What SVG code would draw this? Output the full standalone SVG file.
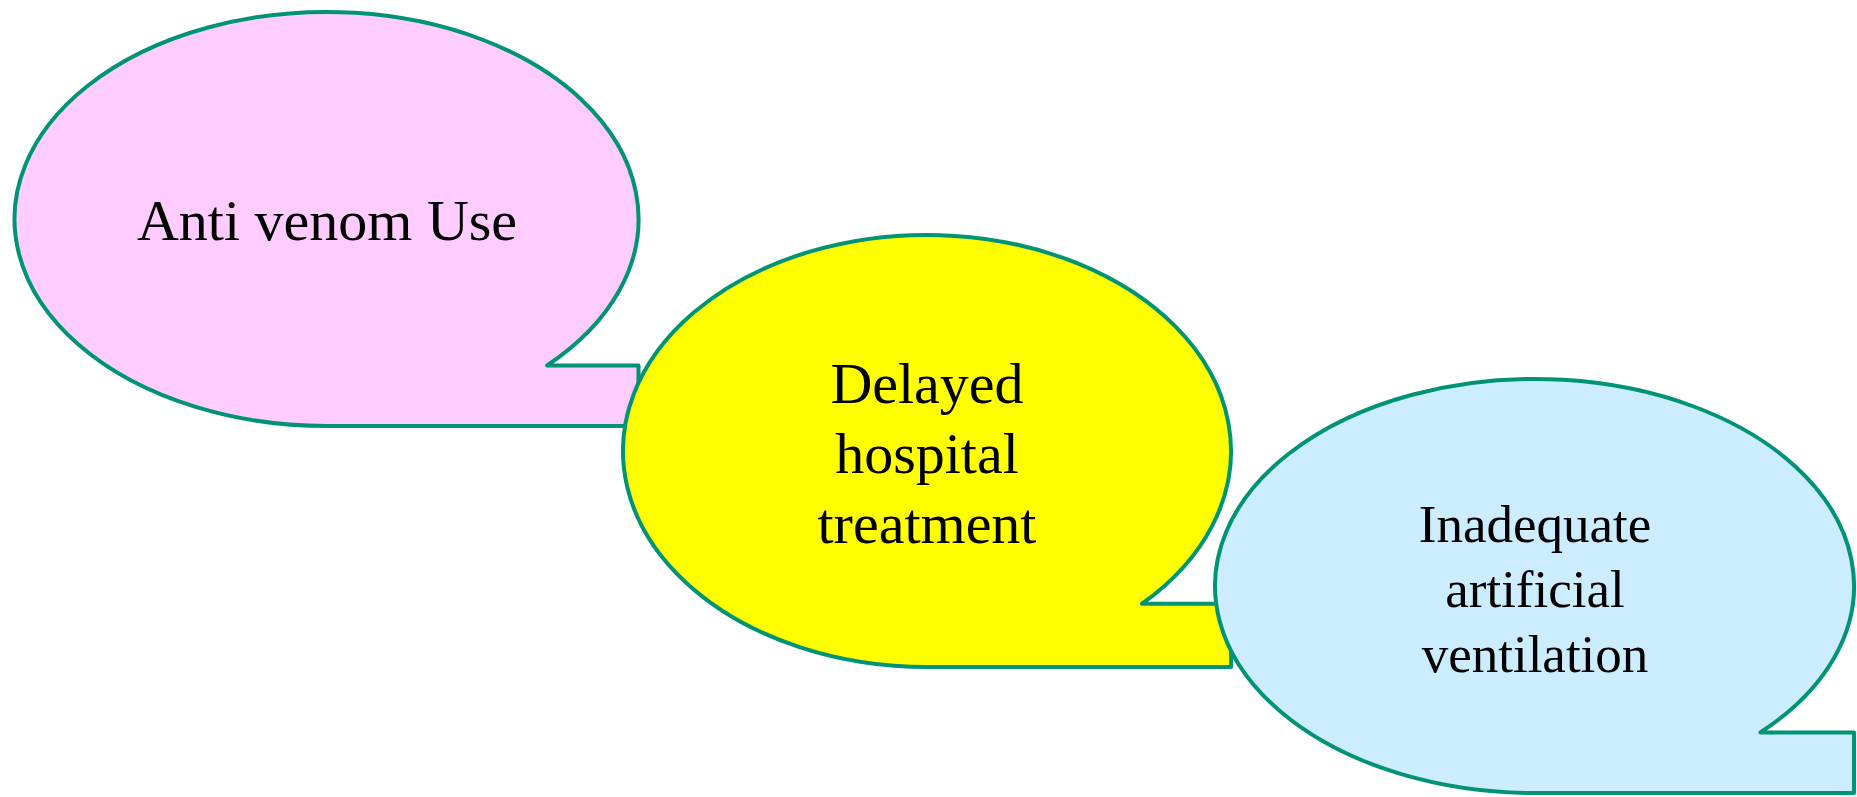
<svg xmlns="http://www.w3.org/2000/svg" width="1857" height="797" viewBox="0 0 1857 797">
<style>
.b{stroke:#009475;stroke-width:4;stroke-linejoin:round}
.t{font-family:"Liberation Serif","Times New Roman",serif;fill:#000;text-anchor:middle}
</style>
<rect width="1857" height="797" fill="#fff"/>
<g id="node-anti-venom">
<path class="b" fill="#FFCCFF" d="M547.1 365.4 A312 207 0 1 0 326.5 426 L638.5 426 L638.5 365.4 Z"/>
<text class="t" x="327" y="240" font-size="58">Anti venom Use</text>
</g>
<g id="node-delayed">
<path class="b" fill="#FFFF00" d="M1142 603.7 A304 216 0 1 0 927 667 L1231 667 L1231 603.7 Z"/>
<text class="t" x="927" font-size="58"><tspan x="927" y="403">Delayed</tspan><tspan x="927" y="473">hospital</tspan><tspan x="927" y="543">treatment</tspan></text>
</g>
<g id="node-ventilation">
<path class="b" fill="#CCECFF" d="M1760.4 732.4 A319.5 207 0 1 0 1534.5 793 L1854 793 L1854 732.4 Z"/>
<text class="t" x="1535" font-size="53"><tspan x="1535" y="542">Inadequate</tspan><tspan x="1535" y="607">artificial</tspan><tspan x="1535" y="672">ventilation</tspan></text>
</g>
<g id="connectors"></g>
</svg>
